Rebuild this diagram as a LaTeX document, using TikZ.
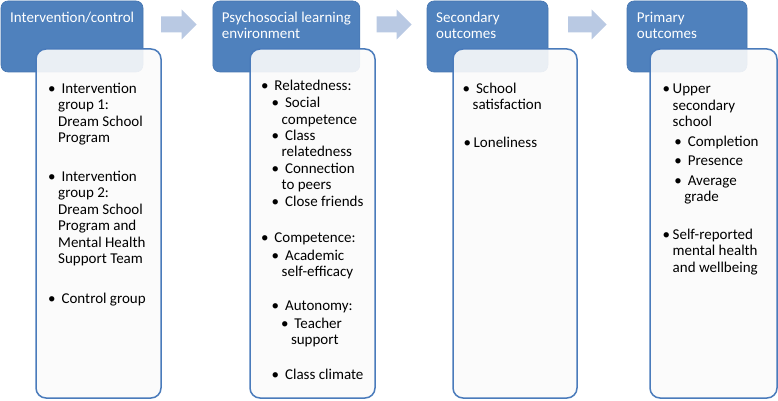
\documentclass[tikz,border=0pt]{standalone}
\usepackage{fontspec}
\setmainfont{Carlito}

\definecolor{headblue}{RGB}{79,129,189}
\definecolor{headedge}{RGB}{69,117,176}
\definecolor{boxedge}{RGB}{74,123,187}
\definecolor{boxfill}{RGB}{251,251,251}
\definecolor{arrowblue}{RGB}{185,201,227}

\newcommand{\bodysize}{\fontsize{15}{16.4}\selectfont}
\newcommand{\headsize}{\fontsize{15}{15.8}\selectfont}
\newcommand{\txtlines}[1]{\begin{tabular}[t]{@{}l@{}}#1\end{tabular}}
\newcommand{\bitem}[1]{\makebox[10pt][l]{\textbullet}\txtlines{#1}}

\begin{document}
\begin{tikzpicture}[x=1pt, y=-1pt,
    head/.style={rectangle, rounded corners=7pt, fill=headblue, draw=headedge, line width=0.6pt, minimum height=71pt, inner sep=0pt},
    panel/.style={rectangle, rounded corners=10pt, fill=boxfill, fill opacity=0.9, draw=boxedge, line width=1.5pt, minimum height=349pt, inner sep=0pt},
    htext/.style={anchor=base west, inner sep=0pt, text=white, font=\headsize},
    item/.style={anchor=base west, inner sep=0pt, font=\bodysize},
    arr/.style={fill=arrowblue}]
    \useasboundingbox (0,0) rectangle (778,401);

    % Blue headers
    \node[head, minimum width=142pt] (h1) at (72,36.5) {};
    \node[head, minimum width=147pt] (h2) at (286.3,36.5) {};
    \node[head, minimum width=121pt] (h3) at (487.5,36.5) {};
    \node[head, minimum width=120pt] (h4) at (687,36.5) {};

    \node[htext] (t1) at (10,23) {\txtlines{Intervention/control}};
    \node[htext] (t2) at (221.7,23) {\txtlines{Psychosocial learning\\environment}};
    \node[htext] (t3) at (436,23) {\txtlines{Secondary\\outcomes}};
    \node[htext] (t4) at (636.7,23) {\txtlines{Primary\\outcomes}};

    % White panels
    \node[panel, minimum width=125pt] (b1) at (98.5,223.5) {};
    \node[panel, minimum width=125pt] (b2) at (312.5,223.5) {};
    \node[panel, minimum width=124pt] (b3) at (515,223.5) {};
    \node[panel, minimum width=127pt] (b4) at (713.5,223.5) {};

    % Arrows between headers
    \fill[arr] (161,16.5) -- (181.7,16.5) -- (181.7,9.5) -- (196.7,24.5) -- (181.7,39.5) -- (181.7,32.5) -- (161,32.5) -- cycle;
    \fill[arr] (376.7,16.5) -- (396.7,16.5) -- (396.7,9.5) -- (411.7,24.5) -- (396.7,39.5) -- (396.7,32.5) -- (376.7,32.5) -- cycle;
    \fill[arr] (568,16.5) -- (591.7,16.5) -- (591.7,9.5) -- (606.7,24.5) -- (591.7,39.5) -- (591.7,32.5) -- (568,32.5) -- cycle;

    % Intervention/control
    \node[item] (i11) at (48,93.5) {\bitem{\ Intervention\\group 1:\\Dream School\\Program}};
    \node[item] (i12) at (48,181.5) {\bitem{\ Intervention\\group 2:\\Dream School\\Program and\\Mental Health\\Support Team}};
    \node[item] (i13) at (48,303) {\bitem{\ Control group}};

    % Psychosocial learning environment
    \node[item] (i21) at (260.8,90.7) {\bitem{\ Relatedness:}};
    \node[item] (i22) at (271.5,108) {\bitem{\ Social\\competence}};
    \node[item] (i23) at (271.5,140.5) {\bitem{\ Class\\relatedness}};
    \node[item] (i24) at (271.5,173) {\bitem{\ Connection\\to peers}};
    \node[item] (i25) at (271.5,206) {\bitem{\ Close friends}};
    \node[item] (i26) at (260.8,242.5) {\bitem{\ Competence:}};
    \node[item] (i27) at (271.5,260) {\bitem{\ Academic\\self-efficacy}};
    \node[item] (i28) at (271.5,310.7) {\bitem{\ Autonomy:}};
    \node[item] (i29) at (280.8,328) {\bitem{\ Teacher\\support}};
    \node[item] (i210) at (271.5,379) {\bitem{\ Class climate}};

    % Secondary outcomes
    \node[item] (i31) at (462.5,93.3) {\bitem{\ School\\satisfaction}};
    \node[item] (i32) at (463.5,147.3) {\bitem{Loneliness}};

    % Primary outcomes
    \node[item] (i41) at (662.5,94) {\bitem{Upper\\secondary\\school}};
    \node[item] (i42) at (674.2,146) {\bitem{\ Completion}};
    \node[item] (i43) at (674.2,165) {\bitem{\ Presence}};
    \node[item] (i44) at (674.2,185) {\bitem{\ Average\\grade}};
    \node[item] (i45) at (662.5,239.3) {\bitem{Self-reported\\mental health\\and wellbeing}};
\end{tikzpicture}
\end{document}
